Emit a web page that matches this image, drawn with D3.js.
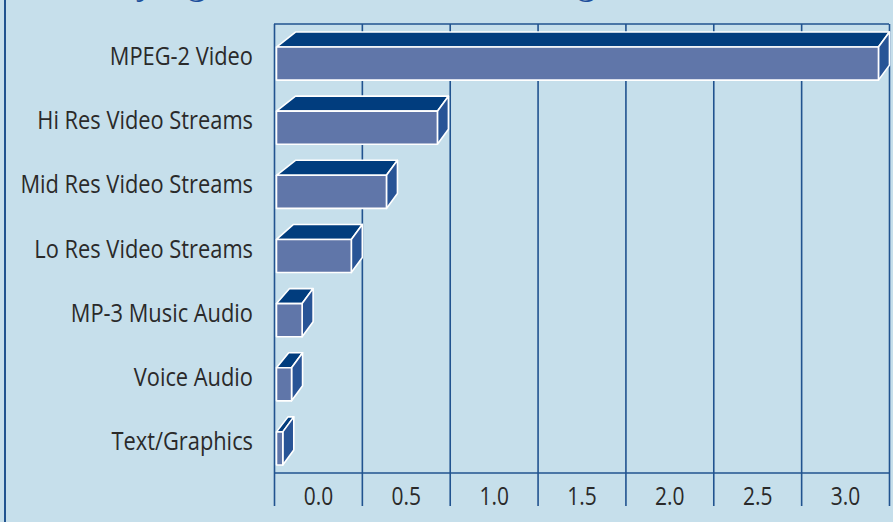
<!DOCTYPE html>
<html lang="en">
<head>
    <meta charset="UTF-8">
    <title>Streaming data rates</title>
    <script src="https://d3js.org/d3.v7.min.js"></script>
    <style>
        html, body {
            margin: 0;
            padding: 0;
            background: #c6dfeb;
        }
        svg {
            display: block;
        }
    </style>
</head>
<body>
    <svg id="chart"></svg>

    <script>
        // data
        const categories = ["MPEG-2 Video", "Hi Res Video Streams", "Mid Res Video Streams",
            "Lo Res Video Streams", "MP-3 Music Audio", "Voice Audio", "Text/Graphics"];
        const values = [3.44, 0.93, 0.64, 0.44, 0.16, 0.10, 0.05];
        const tickValues = [0, 0.5, 1.0, 1.5, 2.0, 2.5, 3.0, 3.5];
        const tickLabels = ["0.0", "0.5", "1.0", "1.5", "2.0", "2.5", "3.0"];

        const width = 893, height = 522;
        const plotTop = 24, plotBase = 473, tickEnd = 506;
        const lineColor = "#21538f";
        const textColor = "#2a2a2a";
        const squeeze = 0.84;   // reference font is a condensed face

        const svg = d3.select("#chart")
            .attr("width", width)
            .attr("height", height);

        svg.append("rect")
            .attr("width", width).attr("height", height)
            .attr("fill", "#c6dfeb");

        // left edge rule of the panel
        svg.append("line")
            .attr("x1", 5).attr("x2", 5).attr("y1", 0).attr("y2", height)
            .attr("stroke", lineColor).attr("stroke-width", 2);

        // title, cut off by the top of the picture (only descenders show)
        svg.append("text")
            .attr("x", 82).attr("y", -8)
            .attr("font-family", "Open Sans, sans-serif")
            .attr("font-style", "italic")
            .attr("font-weight", 300)
            .attr("font-size", 40)
            .attr("fill", "#1d4f9c")
            .text("Varying Bit Rates in Streaming");

        const x = d3.scaleLinear().domain([0, 3.5]).range([274, 889]);
        const y = d3.scaleBand().domain(categories).range([plotTop, plotBase])
            .paddingInner(0.25).paddingOuter(0.125);

        // grid + ticks
        const axis = d3.axisBottom(x)
            .tickValues(tickValues)
            .tickSize(-(tickEnd - plotTop))
            .tickFormat((d, i) => tickLabels[i] || "");

        const half = x(0.25) - x(0);
        const gx = svg.append("g")
            .attr("transform", `translate(0,${tickEnd})`)
            .call(axis);
        gx.select(".domain").remove();
        gx.selectAll(".tick line")
            .attr("stroke", lineColor).attr("stroke-width", 1.6);
        gx.selectAll(".tick text")
            .attr("y", 0).attr("dy", 0)
            .attr("transform", `translate(${half},-1) scale(${squeeze},1)`)
            .attr("font-family", "Open Sans, sans-serif")
            .attr("font-size", 25)
            .attr("fill", textColor);

        svg.append("line")
            .attr("x1", x(0)).attr("x2", x(3.5))
            .attr("y1", plotBase).attr("y2", plotBase)
            .attr("stroke", lineColor).attr("stroke-width", 1.6);
        svg.append("line")
            .attr("x1", x(0)).attr("x2", x(3.5))
            .attr("y1", plotTop).attr("y2", plotTop)
            .attr("stroke", lineColor).attr("stroke-width", 1.6);

        // category labels
        svg.append("g").selectAll("text")
            .data(categories)
            .join("text")
            .attr("transform", d => `translate(253,${y(d) + y.bandwidth() / 2 + 9}) scale(${squeeze},1)`)
            .attr("text-anchor", "end")
            .attr("font-family", "Open Sans, sans-serif")
            .attr("font-size", 26)
            .attr("fill", textColor)
            .text(d => d);

        // 3d bars
        const depthX = 11, depthY = 15;
        const bars = svg.append("g")
            .attr("stroke", "#ffffff")
            .attr("stroke-width", 1.6)
            .attr("stroke-linejoin", "round");

        categories.forEach((c, i) => {
            const x0 = x(0) + 2.5;
            const x1 = x(values[i]);
            const yt = y(c) + depthY;
            const yb = y(c) + y.bandwidth();
            const w = x1 - x0;
            const backLeft = x0 + depthX + 8 * Math.min(1, w / 100);

            // top
            bars.append("path")
                .attr("d", `M${x0},${yt}L${backLeft},${yt - depthY}L${x1 + depthX},${yt - depthY}L${x1},${yt}Z`)
                .attr("fill", "#013d7e");
            // side
            bars.append("path")
                .attr("d", `M${x1},${yt}L${x1 + depthX},${yt - depthY}L${x1 + depthX},${yb - depthY}L${x1},${yb}Z`)
                .attr("fill", "#285496");
            // front
            bars.append("rect")
                .attr("x", x0).attr("y", yt)
                .attr("width", w).attr("height", yb - yt)
                .attr("fill", "#6076a9");
        });
    </script>
</body>
</html>
